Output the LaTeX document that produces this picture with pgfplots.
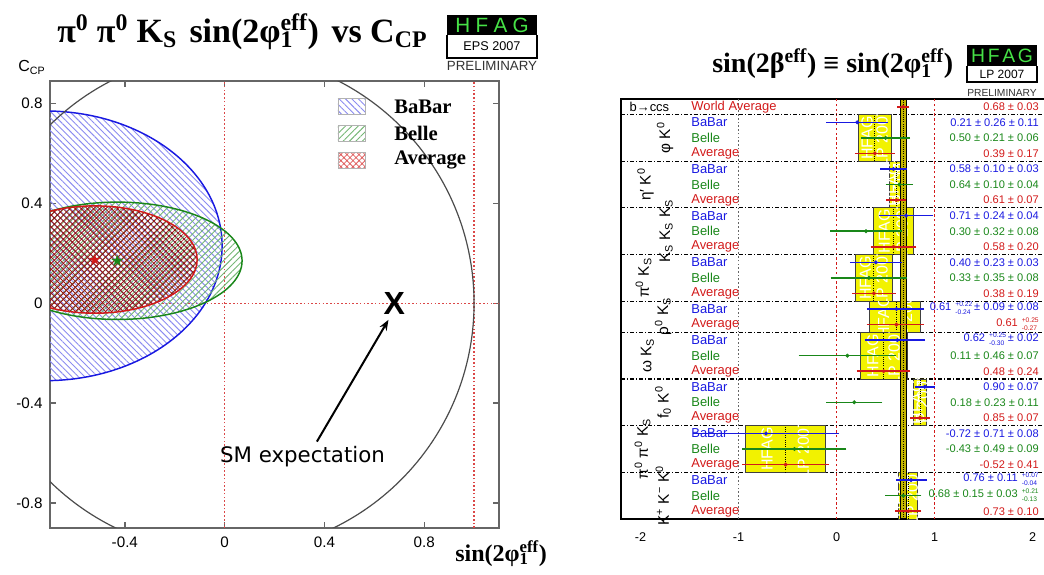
\documentclass[border=0pt]{standalone}
\usepackage{fontspec}
\setmainfont{Liberation Sans}
\newfontfamily\tms{Liberation Serif}
\newfontfamily\dvs{DejaVu Sans}
\usepackage{pgfplots}
\pgfplotsset{compat=1.18}
\usetikzlibrary{patterns.meta,arrows.meta}

\definecolor{cbab}{RGB}{25,25,225}
\definecolor{cbel}{RGB}{25,135,25}
\definecolor{cavg}{RGB}{210,25,25}
\definecolor{hyel}{RGB}{242,242,0}
\definecolor{waband}{RGB}{196,182,0}
\definecolor{hgrn}{RGB}{70,225,70}

\newcommand{\fs}[1]{\fontsize{#1}{#1}\selectfont}
\newcommand{\supsub}[2]{\makebox[0pt][l]{\textsubscript{#2}}\textsuperscript{#1}}
\newcommand{\asym}[2]{\hspace{3pt}{\fontsize{5}{6.1}\selectfont\begin{tabular}[c]{@{}l@{}}#1\\#2\end{tabular}}\hspace{1.5pt}}

% value, low, high, ylow, yhigh
\newcommand{\hfagbox}[5]{%
  \addplot[fill=hyel, draw=black!75, line width=0.7pt] coordinates {(#2,#4) (#3,#4) (#3,#5) (#2,#5) (#2,#4)};
  \begin{scope}
    \clip (axis cs:#2,#4) rectangle (axis cs:#3,#5);
    \node[rotate=90, text=white, font=\fs{12}] at (axis cs:{#2+0.27*(#3-#2)},{(#4+#5)/2}) {HFAG};
    \node[rotate=90, text=white, font=\fs{12}] at (axis cs:{#2+0.72*(#3-#2)},{(#4+#5)/2}) {LP 2007};
  \end{scope}
  \draw[black, line width=0.6pt, densely dotted] (axis cs:#1,#4) -- (axis cs:#1,#5);
}

\begin{document}
\begin{tikzpicture}[x=0.75pt,y=0.75pt]
\useasboundingbox (0,0) rectangle (1044,574);

% ---------------- left: C_CP vs sin(2phi1eff)
\begin{axis}[
  at={(37.5pt,34.5pt)}, anchor=south west,
  width=336.75pt, height=335.25pt, scale only axis,
  xmin=-0.7, xmax=1.1, ymin=-0.9, ymax=0.89,
  xtick={-0.4,0,0.4,0.8}, ytick={-0.8,-0.4,0,0.4,0.8},
  tick align=inside, xtick pos=both, ytick pos=both,
  major tick length=4.5pt,
  axis line style={black!60, line width=1pt},
  tick style={black!60, line width=1pt},
  ticklabel style={font=\fs{11.4}},
  /pgf/number format/assume math mode=true,
  yticklabel style={xshift=-2pt},
  xticklabel style={yshift=-3pt},
]
\draw[cavg!80, line width=0.9pt, dash pattern=on 1.2pt off 1.6pt] (axis cs:0,-0.9) -- (axis cs:0,0.89);
\draw[cavg!80, line width=0.9pt, dash pattern=on 1.2pt off 1.6pt] (axis cs:1,-0.9) -- (axis cs:1,0.89);
\draw[cavg!80, line width=0.9pt, dash pattern=on 1.2pt off 1.6pt] (axis cs:-0.7,0) -- (axis cs:1.1,0);

\draw[cbab, line width=1.1pt, pattern={Lines[angle=-45,distance=3.4pt,line width=0.7pt]}, pattern color=cbab!50] (axis cs:-0.72,0.23) ellipse [x radius=0.71, y radius=0.54];
\draw[cbel, line width=1.1pt, pattern={Lines[angle=45,distance=3.4pt,line width=0.7pt]}, pattern color=cbel!60] (axis cs:-0.43,0.17) ellipse [x radius=0.50, y radius=0.235];
\draw[cavg, line width=1.1pt, pattern={Hatch[angle=45,distance=3.2pt,line width=0.6pt]}, pattern color=cavg!70!black] (axis cs:-0.52,0.175) ellipse [x radius=0.41, y radius=0.215];

\addplot[only marks, mark=text, text mark={\dvs\fs{12}\textcolor{cavg}{★}}] coordinates {(-0.52,0.175)};
\addplot[only marks, mark=text, text mark={\dvs\fs{12}\textcolor{cbel}{★}}] coordinates {(-0.43,0.17)};

\draw[black!70, line width=0.9pt] (axis cs:0,0) circle [radius=1];

% SM expectation
\addplot[only marks, mark=text, text mark={\bfseries\fs{24}X}] coordinates {(0.68,0)};
\draw[-{Stealth[length=8pt,width=6pt]}, line width=1.5pt] (axis cs:0.37,-0.554) -- (axis cs:0.657,-0.066);
\node[font=\dvs\fs{16}] at (axis cs:0.312,-0.614) {SM expectation};

% legend
\draw[black!30, pattern={Lines[angle=-45,distance=3.4pt,line width=0.7pt]}, pattern color=cbab!50] (axis cs:0.454,0.756) rectangle (axis cs:0.562,0.820);
\draw[black!30, pattern={Lines[angle=45,distance=3.4pt,line width=0.7pt]}, pattern color=cbel!60] (axis cs:0.454,0.648) rectangle (axis cs:0.562,0.712);
\draw[black!30, pattern={Hatch[angle=45,distance=3.2pt,line width=0.6pt]}, pattern color=cavg!70] (axis cs:0.454,0.540) rectangle (axis cs:0.562,0.604);
\node[anchor=west, inner sep=0pt, font=\tms\bfseries\fs{15.5}] at (axis cs:0.679,0.788) {BaBar};
\node[anchor=west, inner sep=0pt, font=\tms\bfseries\fs{15.5}] at (axis cs:0.679,0.680) {Belle};
\node[anchor=west, inner sep=0pt, font=\tms\bfseries\fs{15.5}] at (axis cs:0.679,0.572) {Average};
\end{axis}

% ---------------- right: sin(2beta_eff) summary
\begin{axis}[
  at={(465.75pt,41.25pt)}, anchor=south west,
  width=323.4pt, height=315pt, scale only axis,
  xmin=-2.2, xmax=2.2, ymin=0, ymax=27,
  xtick={-2,-1,0,1,2}, ytick=\empty, major tick length=0pt,
  axis line style={black, line width=1.3pt},
  ticklabel style={font=\fs{9.5}},
  /pgf/number format/assume math mode=true,
  xticklabel style={yshift=-7pt},
  clip=false,
  every node/.append style={inner sep=0pt},
]
\draw[black!60, line width=0.9pt, dash pattern=on 1.2pt off 1.6pt] (axis cs:-1,0) -- (axis cs:-1,27);
\draw[cavg, line width=0.9pt, dash pattern=on 1.8pt off 1.8pt] (axis cs:0,0) -- (axis cs:0,27);
\draw[cavg, line width=0.9pt, dash pattern=on 1.8pt off 1.8pt] (axis cs:1,0) -- (axis cs:1,27);
\pgfplotsinvokeforeach{26,23,20,17,14,12,9,6,3}{
  \draw[black, line width=0.9pt, dash pattern=on 3pt off 1.5pt on 0.8pt off 1.5pt] (axis cs:-2.2,#1) -- (axis cs:2.2,#1);
}

\hfagbox{0.39}{0.22}{0.56}{23}{26}
\hfagbox{0.61}{0.54}{0.68}{20}{23}
\hfagbox{0.58}{0.38}{0.78}{17}{20}
\hfagbox{0.38}{0.19}{0.57}{14}{17}
\hfagbox{0.61}{0.34}{0.86}{12}{14}
\hfagbox{0.48}{0.24}{0.72}{9}{12}
\hfagbox{0.85}{0.78}{0.92}{6}{9}
\hfagbox{-0.52}{-0.93}{-0.11}{3}{6}
\hfagbox{0.73}{0.63}{0.83}{0}{3}

% world average band
\addplot[fill=waband, draw=black, line width=0.9pt] coordinates {(0.65,0) (0.71,0) (0.71,27) (0.65,27) (0.65,0)};
\draw[black, densely dotted, line width=0.6pt] (axis cs:0.68,0) -- (axis cs:0.68,27);

% BaBar
\addplot[cbab, only marks, mark=*, mark size=1.3pt,
  error bars/.cd, x dir=both, x explicit,
  error bar style={line width=1.1pt}, error mark options={mark size=2.4pt, line width=1.1pt}]
coordinates {
  (0.21,25.5) +- (0.282,0)
  (0.58,22.5) +- (0.104,0)
  (0.71,19.5) +- (0.243,0)
  (0.40,16.5) +- (0.232,0)
  (0.61,13.5) += (0.251,0) -= (0.268,0)
  (0.62,11.5) += (0.251,0) -= (0.301,0)
  (0.90,8.5) +- (0.07,0)
  (-0.72,5.5) +- (0.714,0)
  (0.76,2.5) += (0.130,0) -= (0.117,0)
};
% Belle
\addplot[cbel, only marks, mark=*, mark size=1.3pt,
  error bars/.cd, x dir=both, x explicit,
  error bar style={line width=1.1pt}, error mark options={mark size=2.4pt, line width=1.1pt}]
coordinates {
  (0.50,24.5) +- (0.218,0)
  (0.64,21.5) +- (0.108,0)
  (0.30,18.5) +- (0.330,0)
  (0.33,15.5) +- (0.359,0)
  (0.11,10.5) +- (0.465,0)
  (0.18,7.5) +- (0.255,0)
  (-0.43,4.5) +- (0.498,0)
  (0.68,1.5) +- (0.153,0)
};
% Averages
\addplot[cavg, only marks, mark=*, mark size=1.3pt,
  error bars/.cd, x dir=both, x explicit,
  error bar style={line width=1.1pt}, error mark options={mark size=2.4pt, line width=1.1pt}]
coordinates {
  (0.68,26.5) +- (0.03,0)
  (0.39,23.5) +- (0.17,0)
  (0.61,20.5) +- (0.07,0)
  (0.58,17.5) +- (0.20,0)
  (0.38,14.5) +- (0.19,0)
  (0.61,12.5) += (0.25,0) -= (0.27,0)
  (0.48,9.5) +- (0.24,0)
  (0.85,6.5) +- (0.07,0)
  (-0.52,3.5) +- (0.41,0)
  (0.73,0.5) +- (0.10,0)
};

% row labels
\node[anchor=west, font=\fs{9.7}] at (axis cs:-2.16,26.5) {b→ccs};
\node[anchor=west, text=cavg, font=\fs{9.7}] at (axis cs:-1.53,26.5) {World Average};
\pgfplotsinvokeforeach{25.5,22.5,19.5,16.5,13.5,11.5,8.5,5.5,2.5}{
  \node[anchor=west, text=cbab, font=\fs{9.7}] at (axis cs:-1.53,#1) {BaBar};}
\pgfplotsinvokeforeach{24.5,21.5,18.5,15.5,10.5,7.5,4.5,1.5}{
  \node[anchor=west, text=cbel, font=\fs{9.7}] at (axis cs:-1.53,#1) {Belle};}
\pgfplotsinvokeforeach{23.5,20.5,17.5,14.5,12.5,9.5,6.5,3.5,0.5}{
  \node[anchor=west, text=cavg, font=\fs{9.7}] at (axis cs:-1.53,#1) {Average};}

% group labels
\node[rotate=90, font=\fs{11.5}] at (axis cs:-1.75,24.5) {φ K\textsuperscript{0}};
\node[rotate=90, font=\fs{11.5}] at (axis cs:-1.95,21.5) {η′ K\textsuperscript{0}};
\node[rotate=90, font=\fs{11.5}] at (axis cs:-1.74,18.5) {K\textsubscript{S} K\textsubscript{S} K\textsubscript{S}};
\node[rotate=90, font=\fs{11.5}] at (axis cs:-1.97,15.5) {π\textsuperscript{0} K\textsubscript{S}};
\node[rotate=90, font=\fs{11.5}] at (axis cs:-1.77,13.0) {ρ\textsuperscript{0} K\textsubscript{S}};
\node[rotate=90, font=\fs{11.5}] at (axis cs:-1.93,10.5) {ω K\textsubscript{S}};
\node[rotate=90, font=\fs{11.5}] at (axis cs:-1.77,7.5) {f\textsubscript{0} K\textsuperscript{0}};
\node[rotate=90, font=\fs{11.5}] at (axis cs:-1.98,4.5) {π\textsuperscript{0} π\textsuperscript{0} K\textsubscript{S}};
\node[rotate=90, font=\fs{11.5}] at (axis cs:-1.78,1.5) {K\textsuperscript{+} K\textsuperscript{−} K\textsuperscript{0}};

% values
\node[anchor=east, text=cavg, font=\fs{8.3}] at (axis cs:2.11,26.5) {0.68 ± 0.03};
\node[anchor=east, text=cbab, font=\fs{8.3}] at (axis cs:2.11,25.5) {0.21 ± 0.26 ± 0.11};
\node[anchor=east, text=cbel, font=\fs{8.3}] at (axis cs:2.11,24.5) {0.50 ± 0.21 ± 0.06};
\node[anchor=east, text=cavg, font=\fs{8.3}] at (axis cs:2.11,23.5) {0.39 ± 0.17};
\node[anchor=east, text=cbab, font=\fs{8.3}] at (axis cs:2.11,22.5) {0.58 ± 0.10 ± 0.03};
\node[anchor=east, text=cbel, font=\fs{8.3}] at (axis cs:2.11,21.5) {0.64 ± 0.10 ± 0.04};
\node[anchor=east, text=cavg, font=\fs{8.3}] at (axis cs:2.11,20.5) {0.61 ± 0.07};
\node[anchor=east, text=cbab, font=\fs{8.3}] at (axis cs:2.11,19.5) {0.71 ± 0.24 ± 0.04};
\node[anchor=east, text=cbel, font=\fs{8.3}] at (axis cs:2.11,18.5) {0.30 ± 0.32 ± 0.08};
\node[anchor=east, text=cavg, font=\fs{8.3}] at (axis cs:2.11,17.5) {0.58 ± 0.20};
\node[anchor=east, text=cbab, font=\fs{8.3}] at (axis cs:2.11,16.5) {0.40 ± 0.23 ± 0.03};
\node[anchor=east, text=cbel, font=\fs{8.3}] at (axis cs:2.11,15.5) {0.33 ± 0.35 ± 0.08};
\node[anchor=east, text=cavg, font=\fs{8.3}] at (axis cs:2.11,14.5) {0.38 ± 0.19};
\node[anchor=east, text=cbab, font=\fs{8.3}] at (axis cs:2.11,13.5) {0.61\asym{+0.22}{-0.24}± 0.09 ± 0.08};
\node[anchor=east, text=cavg, font=\fs{8.3}] at (axis cs:2.11,12.5) {0.61\asym{+0.25}{-0.27}};
\node[anchor=east, text=cbab, font=\fs{8.3}] at (axis cs:2.11,11.5) {0.62\asym{+0.25}{-0.30}± 0.02};
\node[anchor=east, text=cbel, font=\fs{8.3}] at (axis cs:2.11,10.5) {0.11 ± 0.46 ± 0.07};
\node[anchor=east, text=cavg, font=\fs{8.3}] at (axis cs:2.11,9.5) {0.48 ± 0.24};
\node[anchor=east, text=cbab, font=\fs{8.3}] at (axis cs:2.11,8.5) {0.90 ± 0.07};
\node[anchor=east, text=cbel, font=\fs{8.3}] at (axis cs:2.11,7.5) {0.18 ± 0.23 ± 0.11};
\node[anchor=east, text=cavg, font=\fs{8.3}] at (axis cs:2.11,6.5) {0.85 ± 0.07};
\node[anchor=east, text=cbab, font=\fs{8.3}] at (axis cs:2.11,5.5) {-0.72 ± 0.71 ± 0.08};
\node[anchor=east, text=cbel, font=\fs{8.3}] at (axis cs:2.11,4.5) {-0.43 ± 0.49 ± 0.09};
\node[anchor=east, text=cavg, font=\fs{8.3}] at (axis cs:2.11,3.5) {-0.52 ± 0.41};
\node[anchor=east, text=cbab, font=\fs{8.3}] at (axis cs:2.11,2.5) {0.76 ± 0.11\asym{+0.07}{-0.04}};
\node[anchor=east, text=cbel, font=\fs{8.3}] at (axis cs:2.11,1.5) {0.68 ± 0.15 ± 0.03\asym{+0.21}{-0.13}};
\node[anchor=east, text=cavg, font=\fs{8.3}] at (axis cs:2.11,0.5) {0.73 ± 0.10};
\end{axis}

% ---------------- titles, labels, logos
\node[anchor=base west, inner sep=0pt, font=\tms\bfseries\fs{25.5}] at (57,531)
  {π\textsuperscript{0} π\textsuperscript{0} K\textsubscript{S}\hspace{3pt} sin(2φ\supsub{eff}{1})\hspace{3pt} vs C\textsubscript{CP}};
\node[anchor=base west, inner sep=0pt, font=\fs{12}] at (18,502) {C\textsubscript{CP}};
\node[anchor=base west, inner sep=0pt, font=\tms\bfseries\fs{18}] at (455,13) {sin(2φ\supsub{eff}{1})};

\fill[black] (447,539) rectangle (537,559);
\node[text=hgrn, font=\fs{15.5}] at (492,549) {H\hspace{4pt}F\hspace{4pt}A\hspace{4pt}G};
\draw[black, line width=1.1pt] (447,539) -- (447,516) -- (537,516) -- (537,539);
\node[font=\fs{9.5}] at (492,527.5) {EPS 2007};
\node[font=\fs{10}, text=black!80] at (492,508) {PRELIMINARY};

\node[anchor=base west, inner sep=0pt, font=\tms\bfseries\fs{21}] at (712,501)
  {sin(2β\textsuperscript{eff}) ≡ sin(2φ\supsub{eff}{1})};
\fill[black] (967,508) rectangle (1037,529);
\node[text=hgrn, font=\fs{14.5}] at (1002,518.5) {H\hspace{2pt}F\hspace{2pt}A\hspace{2pt}G};
\draw[black, line width=1.1pt] (967,508) -- (967,492) -- (1037,492) -- (1037,508);
\node[font=\fs{9}] at (1002,500) {LP 2007};
\node[font=\fs{7.7}, text=black!80] at (1002,481) {PRELIMINARY};
\end{tikzpicture}
\end{document}
